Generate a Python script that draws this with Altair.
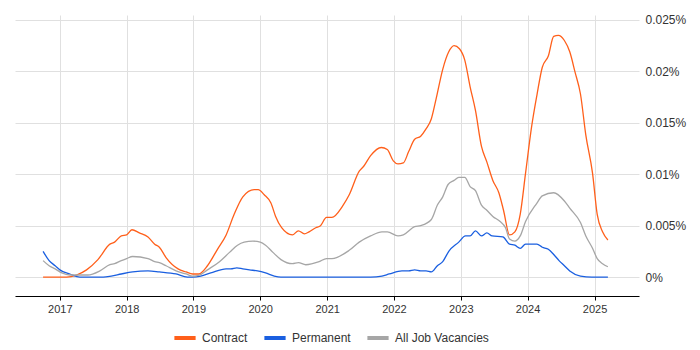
import altair as alt
import pandas as pd

# Contract series (fractional year, % of all jobs)
contract_t = [2016.75, 2017.1, 2017.25, 2017.4, 2017.57, 2017.75, 2017.82, 2017.92, 2018.0, 2018.08,
              2018.19, 2018.32, 2018.42, 2018.49, 2018.59, 2018.77, 2018.89, 2018.99, 2019.08, 2019.21,
              2019.36, 2019.49, 2019.61, 2019.74, 2019.91, 2019.97, 2020.06, 2020.16, 2020.23, 2020.32,
              2020.48, 2020.57, 2020.66, 2020.73, 2020.83, 2020.9, 2020.99, 2021.07, 2021.23, 2021.33,
              2021.48, 2021.55, 2021.65, 2021.81, 2021.9, 2021.99, 2022.06, 2022.14, 2022.22, 2022.31,
              2022.4, 2022.48, 2022.56, 2022.63, 2022.73, 2022.82, 2022.9, 2022.98, 2023.06, 2023.14,
              2023.22, 2023.31, 2023.39, 2023.48, 2023.57, 2023.64, 2023.73, 2023.81, 2023.89, 2023.97,
              2024.06, 2024.14, 2024.22, 2024.31, 2024.39, 2024.46, 2024.55, 2024.63, 2024.71, 2024.79,
              2024.87, 2024.97, 2025.04, 2025.12, 2025.2]
contract_v = [0.0, 0.0, 0.0002, 0.0007, 0.0017, 0.0032, 0.0034, 0.0040, 0.0041, 0.0046,
              0.0043, 0.0039, 0.0032, 0.0029, 0.0019, 0.0008, 0.0005, 0.0003, 0.0003, 0.0011,
              0.0027, 0.0041, 0.0061, 0.0078, 0.0085, 0.0085, 0.0080, 0.0072, 0.0059, 0.0048,
              0.0041, 0.0045, 0.0042, 0.0044, 0.0048, 0.0050, 0.0058, 0.0058, 0.0069, 0.0080,
              0.0103, 0.0108, 0.0118, 0.0126, 0.0124, 0.0113, 0.0110, 0.0111, 0.0122, 0.0134,
              0.0137, 0.0144, 0.0154, 0.0173, 0.0202, 0.0219, 0.0225, 0.0222, 0.0211, 0.0185,
              0.0162, 0.0127, 0.0112, 0.0094, 0.0082, 0.0065, 0.0041, 0.0044, 0.0061, 0.0101,
              0.0146, 0.0177, 0.0204, 0.0215, 0.0234, 0.0235, 0.0230, 0.0219, 0.0199, 0.0178,
              0.0138, 0.0101, 0.0061, 0.0044, 0.0036]

# Permanent series
perm_t = [2016.75, 2016.84, 2016.93, 2017.0, 2017.15, 2017.3, 2017.4, 2017.65, 2017.77, 2017.92,
          2018.09, 2018.32, 2018.49, 2018.74, 2018.91, 2018.99, 2019.11, 2019.26, 2019.49, 2019.56,
          2019.65, 2019.74, 2019.84, 2019.96, 2020.08, 2020.21, 2020.31, 2021.65, 2021.82, 2021.93,
          2022.12, 2022.22, 2022.31, 2022.4, 2022.48, 2022.56, 2022.65, 2022.73, 2022.82, 2022.97,
          2023.07, 2023.14, 2023.22, 2023.31, 2023.39, 2023.47, 2023.63, 2023.73, 2023.81, 2023.89,
          2023.97, 2024.14, 2024.22, 2024.31, 2024.39, 2024.47, 2024.55, 2024.63, 2024.79, 2024.96,
          2025.2]
perm_v = [0.0025, 0.0016, 0.0011, 0.0007, 0.0003, 0.0, 0.0, 0.0, 0.0001, 0.0003,
          0.0005, 0.0006, 0.0005, 0.0003, 0.0, 0.0, 0.0001, 0.0004, 0.0008, 0.0008,
          0.0009, 0.0008, 0.0007, 0.0006, 0.0004, 0.0001, 0.0, 0.0, 0.0001, 0.0003,
          0.0006, 0.0006, 0.0007, 0.0006, 0.0006, 0.0005, 0.0011, 0.0015, 0.0025, 0.0034,
          0.0040, 0.0040, 0.0045, 0.0040, 0.0043, 0.0040, 0.0039, 0.0032, 0.0031, 0.0028,
          0.0032, 0.0032, 0.0029, 0.0027, 0.0022, 0.0016, 0.0011, 0.0006, 0.0001, 0.0,
          0.0]

# All Job Vacancies series
all_t = [2016.75, 2016.84, 2016.93, 2017.03, 2017.15, 2017.3, 2017.42, 2017.6, 2017.75, 2017.82,
         2017.92, 2018.0, 2018.09, 2018.32, 2018.42, 2018.49, 2018.59, 2018.74, 2018.89, 2018.99,
         2019.09, 2019.21, 2019.39, 2019.54, 2019.66, 2019.76, 2019.89, 2020.0, 2020.08, 2020.19,
         2020.31, 2020.48, 2020.57, 2020.68, 2020.88, 2020.99, 2021.07, 2021.33, 2021.48, 2021.65,
         2021.82, 2021.9, 2022.06, 2022.14, 2022.31, 2022.4, 2022.56, 2022.65, 2022.73, 2022.81,
         2022.9, 2022.97, 2023.06, 2023.14, 2023.22, 2023.31, 2023.39, 2023.48, 2023.59, 2023.67,
         2023.73, 2023.81, 2023.89, 2023.97, 2024.14, 2024.22, 2024.39, 2024.55, 2024.63, 2024.79,
         2024.87, 2024.97, 2025.04, 2025.12, 2025.2]
all_v = [0.0016, 0.0011, 0.0008, 0.0004, 0.0002, 0.0002, 0.0002, 0.0006, 0.0012, 0.0013,
         0.0016, 0.0018, 0.0020, 0.0018, 0.0015, 0.0014, 0.0011, 0.0006, 0.0003, 0.0001,
         0.0002, 0.0007, 0.0015, 0.0024, 0.0031, 0.0034, 0.0035, 0.0034, 0.0031, 0.0024,
         0.0017, 0.0013, 0.0014, 0.0012, 0.0015, 0.0018, 0.0018, 0.0026, 0.0034, 0.0040,
         0.0044, 0.0044, 0.0040, 0.0041, 0.0049, 0.0050, 0.0056, 0.0070, 0.0078, 0.0090,
         0.0094, 0.0097, 0.0097, 0.0088, 0.0084, 0.0070, 0.0065, 0.0059, 0.0054, 0.0048,
         0.0037, 0.0035, 0.0040, 0.0054, 0.0072, 0.0079, 0.0082, 0.0074, 0.0067, 0.0053,
         0.0040, 0.0028, 0.0018, 0.0013, 0.0010]

series_names = ["Contract", "Permanent", "All Job Vacancies"]
series_colors = ["#ff5f1a", "#1a5fe0", "#a6a6a6"]


def to_date(fy):
    y = int(fy)
    start = pd.Timestamp(year=y, month=1, day=1)
    end = pd.Timestamp(year=y + 1, month=1, day=1)
    return start + (end - start) * (fy - y)


rows = []
for name, ts, vs in [("Contract", contract_t, contract_v),
                     ("Permanent", perm_t, perm_v),
                     ("All Job Vacancies", all_t, all_v)]:
    for t, v in zip(ts, vs):
        rows.append({"date": to_date(t), "value": v, "series": name})
df = pd.DataFrame(rows)

chart = alt.Chart(df).mark_line(strokeWidth=1.3, interpolate="monotone").encode(
    x=alt.X("date:T",
            scale=alt.Scale(domain=[alt.DateTime(year=2016, month=5, date=1),
                                    alt.DateTime(year=2025, month=9, date=1)]),
            axis=alt.Axis(title=None, format="%Y", tickCount={"interval": "year", "step": 1},
                          domainColor="#000000", domainWidth=1.2, tickColor="#000000",
                          tickSize=4, labelPadding=3, labelFontSize=11,
                          labelColor="#333333", labelFont="Liberation Sans",
                          gridColor="#e0e0e0")),
    y=alt.Y("value:Q",
            scale=alt.Scale(domain=[-0.00184, 0.02548], nice=False, zero=False),
            axis=alt.Axis(title=None, orient="right", values=[0, 0.005, 0.01, 0.015, 0.02, 0.025],
                          labelExpr="format(datum.value, '.3~f') + '%'",
                          domain=False, ticks=False, labelPadding=6, labelFontSize=12,
                          labelColor="#333333", labelFont="Liberation Sans",
                          gridColor="#e0e0e0")),
    color=alt.Color("series:N",
                    scale=alt.Scale(domain=series_names, range=series_colors),
                    legend=alt.Legend(title=None, orient="none", direction="horizontal",
                                      legendX=157, legendY=310,
                                      symbolType="stroke", symbolStrokeWidth=4, symbolSize=450,
                                      labelFontSize=12, labelFont="Liberation Sans",
                                      labelColor="#333333", columnPadding=8)),
    order=alt.Order("series:N")
).properties(
    width=624,
    height=281,
    padding={"left": 7, "top": 5, "right": 5, "bottom": 5}
).configure_view(stroke=None)

chart.save("out.html", embed_options={"renderer": "svg", "actions": False})
